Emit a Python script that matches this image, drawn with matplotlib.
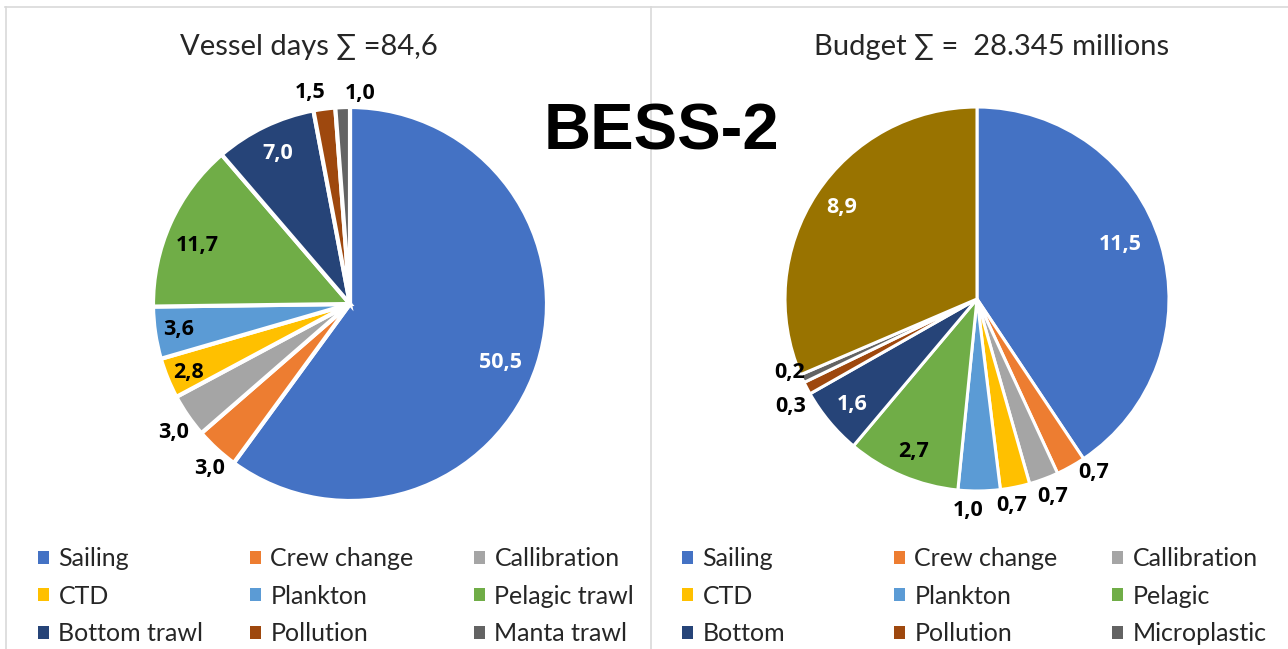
import matplotlib
matplotlib.use("Agg")
import matplotlib.pyplot as plt
from matplotlib.patches import Patch
from matplotlib.lines import Line2D
import numpy as np

# ---------------- data ----------------
days_categories = ["Sailing", "Crew change", "Callibration", "CTD", "Plankton",
                   "Pelagic trawl", "Bottom trawl", "Pollution", "Manta trawl"]
days_values = [50.5, 3.0, 3.0, 2.8, 3.6, 11.7, 7.0, 1.5, 1.0]

budget_categories = ["Sailing", "Crew change", "Callibration", "CTD", "Plankton",
                     "Pelagic", "Bottom", "Pollution", "Microplastic", "Other"]
budget_values = [11.5, 0.7, 0.7, 0.7, 1.0, 2.7, 1.6, 0.3, 0.2, 8.9]

days_title = "Vessel days \u2211 =84,6"
budget_title = "Budget \u2211 =  28.345 millions"
main_title = "BESS-2"

# ---------------- style ----------------
colors = ["#4472C4", "#ED7D31", "#A5A5A5", "#FFC000", "#5B9BD5",
          "#70AD47", "#264478", "#9E480E", "#636363", "#997300"]

W, H = 1288, 649
fig = plt.figure(figsize=(W / 100, H / 100), dpi=100)
fig.patch.set_facecolor("white")

TXT = ["Lato", "DejaVu Sans"]
LBL = ["Open Sans", "DejaVu Sans"]


def pie_axes(cx, cy, r):
    return fig.add_axes([(cx - r) / W, 1 - (cy + r) / H, 2 * r / W, 2 * r / H])


def draw_pie(ax, values, lw, dist, dang, lcolors):
    wedges, _ = ax.pie(values, colors=colors[:len(values)], startangle=90,
                       counterclock=False, radius=1.0,
                       wedgeprops=dict(edgecolor="white", linewidth=lw))
    ax.set_xlim(-1, 1)
    ax.set_ylim(-1, 1)
    ax.set_aspect("auto")
    ax.axis("off")
    for w, v, d, da, c in zip(wedges, values, dist, dang, lcolors):
        a = np.deg2rad((w.theta1 + w.theta2) / 2 + da)
        ax.text(d * np.cos(a), d * np.sin(a), f"{v:.1f}".replace(".", ","),
                ha="center", va="center", fontsize=15.5, fontweight="bold",
                color=c, family=LBL, clip_on=False)
    return wedges


# left pie
axL = pie_axes(350, 304, 197)
wl = draw_pie(axL, days_values, 3,
              [0.82, 1.10, 1.11, 0.89, 0.88, 0.83, 0.85, 1.09, 1.07],
              [-3.2, 2.1, 1.5, 0.7, 0, 3.2, 0, 3.2, -4.8],
              ["white", "black", "black", "black", "black", "black", "white", "black", "black"])

# right pie
axR = pie_axes(977, 299, 192)
wr = draw_pie(axR, budget_values, 2.2,
              [0.80, 1.09, 1.10, 1.09, 1.10, 0.86, 0.85, 1.12, 1.05, 0.85],
              [3.8, 4.5, 0.6, -1.8, -3.0, 0.2, 0.5, 2.3, -3.2, -0.9],
              ["white", "black", "black", "black", "black", "black", "white", "black", "black", "white"])

# titles
fig.text(309 / W, 1 - 47 / H, days_title, ha="center", va="center",
         fontsize=21, color="#262626", family=TXT)
fig.text(992 / W, 1 - 47 / H, budget_title, ha="center", va="center",
         fontsize=21, color="#262626", family=TXT)
fig.text(661 / W, 1 - 133 / H, main_title, ha="center", va="center",
         fontsize=47, fontweight="bold", color="black", family=["Liberation Sans"])


# legends: three columns per pie, row-major order like Excel
def legends(cats, xs, y_top):
    for ci, x in enumerate(xs):
        idx = [ci, ci + 3, ci + 6]
        handles = [Patch(facecolor=colors[i], edgecolor="none") for i in idx]
        labels = [cats[i] for i in idx]
        leg = fig.legend(handles, labels, loc="upper left",
                         bbox_to_anchor=(x / W, 1 - y_top / H),
                         frameon=False, handlelength=0.42, handleheight=0.42,
                         handletextpad=0.4, labelspacing=0.58, borderpad=0,
                         borderaxespad=0,
                         prop=dict(family=TXT, size=18))
        for t in leg.get_texts():
            t.set_color("#262626")


legends(days_categories, [38, 250, 474], 547)
legends(budget_categories, [682, 894, 1112], 547)

# frame lines
fig.add_artist(Line2D([5 / W, 1], [1 - 7 / H, 1 - 7 / H], color="#d9d9d9", lw=1.2))
fig.add_artist(Line2D([6 / W, 6 / W], [0, 1 - 7 / H], color="#d9d9d9", lw=1.2))
fig.add_artist(Line2D([651 / W, 651 / W], [0, 1 - 7 / H], color="#d9d9d9", lw=1.2))

fig.savefig("out.png", dpi=100, facecolor="white")
